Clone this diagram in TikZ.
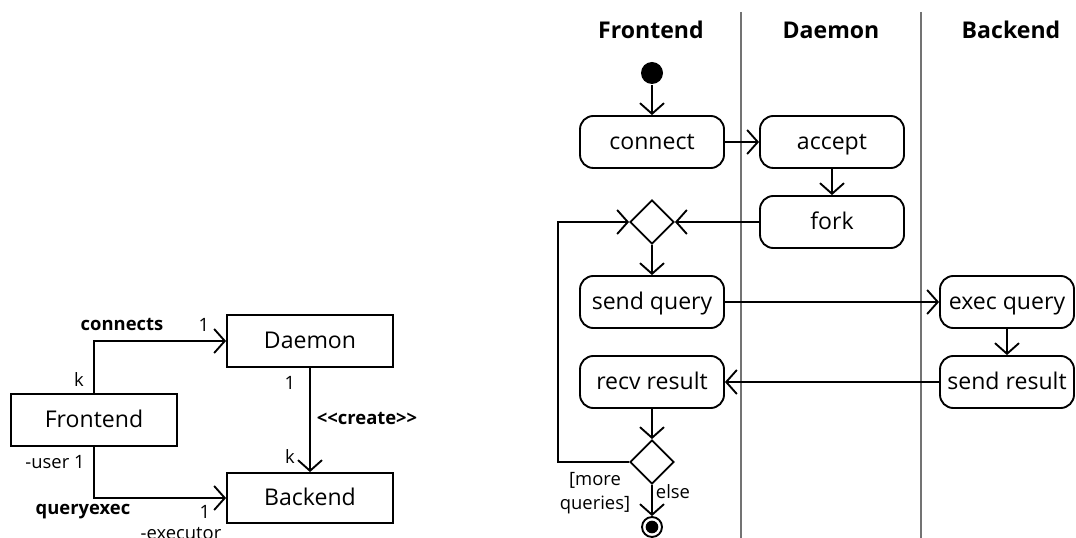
\documentclass[tikz,border=0pt]{standalone}
\usepackage{fontspec}
\setmainfont{Open Sans}
\usetikzlibrary{arrows.meta,shapes.geometric}
\begin{document}
\begin{tikzpicture}[x=0.75pt,y=-0.75pt,
  line width=1.4pt,
  >={Straight Barb[length=8pt,width=18pt]},
  txt/.style={font=\fontsize{17.3}{20}\selectfont, text height=12.5pt, text depth=1pt},
  lbl/.style={font=\fontsize{13.8}{18.5}\selectfont, inner sep=0pt},
  blbl/.style={font=\bfseries\fontsize{13.8}{18.5}\selectfont, inner sep=0pt},
  cls/.style={draw, txt, minimum width=124.5pt, minimum height=39pt, inner sep=0pt},
  act/.style={draw, txt, rounded corners=10pt, minimum width=108pt, minimum height=39pt, inner sep=0pt},
  hdr/.style={font=\bfseries\fontsize{17.3}{20}\selectfont, inner sep=0pt, text height=12.5pt, text depth=1pt},
  lane/.style={draw=black!55, line width=0.8pt},
  dia/.style={draw, diamond, shape aspect=1, minimum width=33pt, minimum height=33pt, inner sep=0pt},
]
\useasboundingbox (0,0) rectangle (1076,538);

% ---------- class diagram ----------
\node[cls] (fe) at (94,420) {Frontend};
\node[cls] (dm) at (310,341) {Daemon};
\node[cls, minimum height=37.5pt] (be) at (310,498) {Backend};

\draw[->] (fe.north) |- (dm.west);
\draw[->] (fe.south) |- (be.west);
\draw[->] (dm.south) -- (be.north);

\node[blbl] (lconn) at (122,325) {connects};
\node[lbl] (m1) at (204,325) {1};
\node[lbl] (m2) at (79,380) {k};
\node[lbl] (m3) at (290,383) {1};
\node[blbl, anchor=west] (lcreate) at (316,419) {<{}<create>{}>};
\node[lbl] (m4) at (290,457) {k};
\node[lbl] (muser) at (55,462) {-user 1};
\node[blbl] (lqe) at (83,512) {queryexec};
\node[lbl] (m5) at (205,512) {1};
\node[lbl] (mexec) at (181,534) {-executor};

% ---------- activity diagram ----------
\coordinate (l1top) at (741,12);
\coordinate (l1bot) at (741,538);
\coordinate (l2top) at (921,12);
\coordinate (l2bot) at (921,538);
\draw[lane] (l1top) -- (l1bot);
\draw[lane] (l2top) -- (l2bot);

\node[hdr] (h1) at (651,31) {Frontend};
\node[hdr] (h2) at (831,31) {Daemon};
\node[hdr] (h3) at (1011,31) {Backend};

\node[circle, fill=black, minimum size=16.5pt, inner sep=0pt] (init) at (652,73) {};
\node[act] (connect) at (652,142) {connect};
\node[act] (accept) at (832,142) {accept};
\node[act] (fork) at (832,222) {fork};
\node[dia] (merge) at (652,222) {};
\node[act] (sendq) at (652,302) {send query};
\node[act, minimum width=100.5pt] (execq) at (1007,302) {exec query};
\node[act, minimum width=100.5pt] (sendr) at (1007,382) {send result};
\node[act] (recv) at (652,382) {recv result};
\node[dia] (dec) at (652,462) {};
\node[circle, draw, minimum size=15pt, inner sep=0pt] (final) at (652,527) {};
\node[circle, fill=black, minimum size=9.5pt, inner sep=0pt] (finalin) at (652,527) {};
\coordinate (loopc) at (558,462);

\draw[->] (init) -- (connect.north);
\draw[->] (connect.east) -- (accept.west);
\draw[->] (accept.south) -- (fork.north);
\draw[->] (fork.west) -- (merge.east);
\draw[->] (merge.south) -- (sendq.north);
\draw[->] (sendq.east) -- (execq.west);
\draw[->] (execq.south) -- (sendr.north);
\draw[->] (sendr.west) -- (recv.east);
\draw[->] (recv.south) -- (dec.north);
\draw[->] (dec.west) -- (loopc) |- (merge.west);
\draw[->] (dec.south) -- (final.north);

\node[lbl, align=center] (lmore) at (595,493) {[more\\queries]};
\node[lbl, anchor=west] (lelse) at (655,492) {else};
\end{tikzpicture}
\end{document}
